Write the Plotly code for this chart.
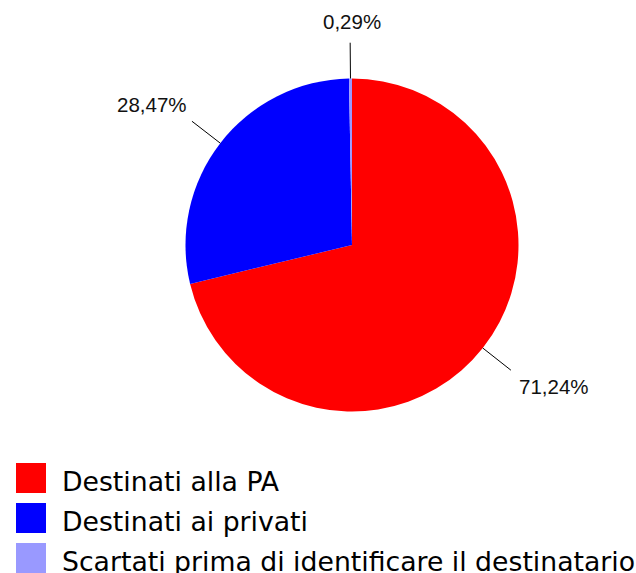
import math
import plotly.graph_objects as go

# ---- data ----
categories = ["Destinati alla PA", "Destinati ai privati",
              "Scartati prima di identificare il destinatario"]
percent_values = [71.24, 28.47, 0.29]
slice_colors = ["#FF0000", "#0000FF", "#9999FF"]

# ---- layout constants ----
W, H = 636, 573
CX, CY, R = 352, 245, 166.5          # pie centre / radius in pixels
LINE_IN, LINE_OUT = 1.0, 1.215       # leader line radial extent (in R)


def px(x):
    return x / W


def py(y):
    return 1 - y / H


labels_text = [f"{v:.2f}".replace(".", ",") + "%" for v in percent_values]

fig = go.Figure()
fig.add_trace(go.Pie(
    labels=categories,
    values=percent_values,
    marker=dict(colors=slice_colors, line=dict(width=0)),
    sort=False,
    direction="clockwise",
    rotation=0,
    textinfo="none",
    hoverinfo="label+percent",
    showlegend=False,
    domain=dict(x=[px(CX - R), px(CX + R)], y=[py(CY + R), py(CY - R)]),
))

shapes = []
annotations = []

# leader lines + outside labels, derived from the slice angles
total = sum(percent_values)
acc = 0.0
for val, txt in zip(percent_values, labels_text):
    mid = (acc + val / 2) / total * 2 * math.pi
    acc += val
    ux, uy = math.sin(mid), -math.cos(mid)   # screen direction (y down)
    x0, y0 = CX + ux * R * LINE_IN, CY + uy * R * LINE_IN
    x1, y1 = CX + ux * R * LINE_OUT, CY + uy * R * LINE_OUT
    shapes.append(dict(type="line", xref="paper", yref="paper",
                       x0=px(x0), y0=py(y0), x1=px(x1), y1=py(y1),
                       line=dict(color="#000000", width=1)))
    if ux > 0.2:
        xa, xs = "left", 6
    elif ux < -0.2:
        xa, xs = "right", -3
    else:
        xa, xs = "center", 2
    if uy > 0:
        ya, ys = "top", -3
    else:
        ya, ys = "bottom", 3 if abs(ux) > 0.2 else 8
    annotations.append(dict(x=px(x1), y=py(y1), xref="paper", yref="paper",
                            text=txt, showarrow=False, xanchor=xa, yanchor=ya,
                            xshift=xs, yshift=ys,
                            font=dict(family="Liberation Sans, Arial", size=20.5,
                                      color="#111111")))

# custom legend with large square swatches
LEG_X0, LEG_Y0, SW, STEP = 16, 463, 30, 40
for i, (name, col) in enumerate(zip(categories, slice_colors)):
    top = LEG_Y0 + i * STEP
    shapes.append(dict(type="rect", xref="paper", yref="paper",
                       x0=px(LEG_X0), x1=px(LEG_X0 + SW),
                       y0=py(top + SW), y1=py(top),
                       fillcolor=col, line=dict(width=0)))
    annotations.append(dict(x=px(62), y=py(top + SW / 2 + 3), xref="paper",
                            yref="paper", text=name, showarrow=False,
                            xanchor="left", yanchor="middle", xshift=-2,
                            font=dict(family="DejaVu Sans", size=26.7,
                                      color="#000000")))

fig.update_layout(
    width=W, height=H,
    margin=dict(l=0, r=0, t=0, b=0),
    paper_bgcolor="white",
    plot_bgcolor="white",
    shapes=shapes,
    annotations=annotations,
)

fig.write_html(
    "out.html",
    config={"displayModeBar": False},
    post_script="document.body.style.margin='0';document.body.style.overflow='hidden';",
)
